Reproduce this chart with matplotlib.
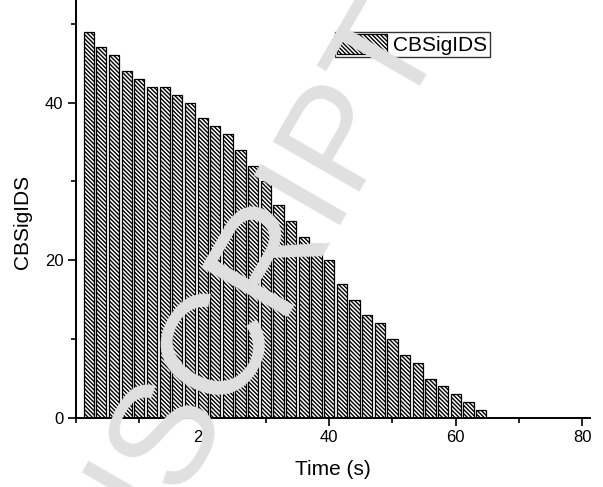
import matplotlib
matplotlib.use('Agg')
from matplotlib import pyplot as plt
from matplotlib.ticker import MultipleLocator

plt.rcParams['font.family'] = ['Liberation Sans', 'DejaVu Sans']
plt.rcParams['hatch.linewidth'] = 1.0

# time stamps (s) and CBSigIDS counts
times = [2, 4, 6, 8, 10, 12, 14, 16, 18, 20, 22, 24, 26, 28, 30, 32,
         34, 36, 38, 40, 42, 44, 46, 48, 50, 52, 54, 56, 58, 60, 62, 64]
counts = [49, 47, 46, 44, 43, 42, 42, 41, 40, 38, 37, 36, 34, 32, 30, 27,
          25, 23, 22, 20, 17, 15, 13, 12, 10, 8, 7, 5, 4, 3, 2, 1]
series_name = 'CBSigIDS'

fig = plt.figure(figsize=(6.03, 4.87), dpi=100)
ax = fig.add_axes([0.126, 0.1417, 0.8524, 0.8583])

ax.bar(times, counts, width=1.6, color='white', edgecolor='black',
       linewidth=0.9, hatch='\\' * 8, label=series_name)

ax.set_xlim(0, 81.2)
ax.set_ylim(0, 53)
ax.xaxis.set_major_locator(MultipleLocator(20))
ax.xaxis.set_minor_locator(MultipleLocator(10))
ax.yaxis.set_major_locator(MultipleLocator(20))
ax.yaxis.set_minor_locator(MultipleLocator(10))
ax.set_xticks([20, 40, 60, 80])

for side in ['top', 'right']:
    ax.spines[side].set_visible(False)
for side in ['left', 'bottom']:
    ax.spines[side].set_linewidth(1.4)

ax.tick_params(which='major', direction='out', length=6, width=1.2,
               labelsize=12, pad=3)
ax.tick_params(which='minor', direction='out', length=3.5, width=1.2)

ax.set_xlabel('Time (s)', fontsize=15)
ax.set_ylabel('CBSigIDS', fontsize=15)
ax.yaxis.set_label_coords(-0.085, 0.47)
ax.xaxis.set_label_coords(0.5, -0.1)

leg = ax.legend(loc='upper left', bbox_to_anchor=(0.5556, 0.9343),
                bbox_transform=fig.transFigure, fontsize=15, frameon=True,
                fancybox=False, borderpad=0.1, borderaxespad=0,
                handlelength=2.4, handleheight=1.1, handletextpad=0.3)
leg.get_frame().set_edgecolor('black')
leg.get_frame().set_linewidth(1.0)

# watermark across the page
fig.text(0.741, 0.915, 'ACCEPTED MANUSCRIPT', fontsize=104, color='#e0e0e0',
         ha='right', va='baseline', rotation=60, rotation_mode='anchor',
         zorder=10)

fig.savefig('out.png', dpi=100)
